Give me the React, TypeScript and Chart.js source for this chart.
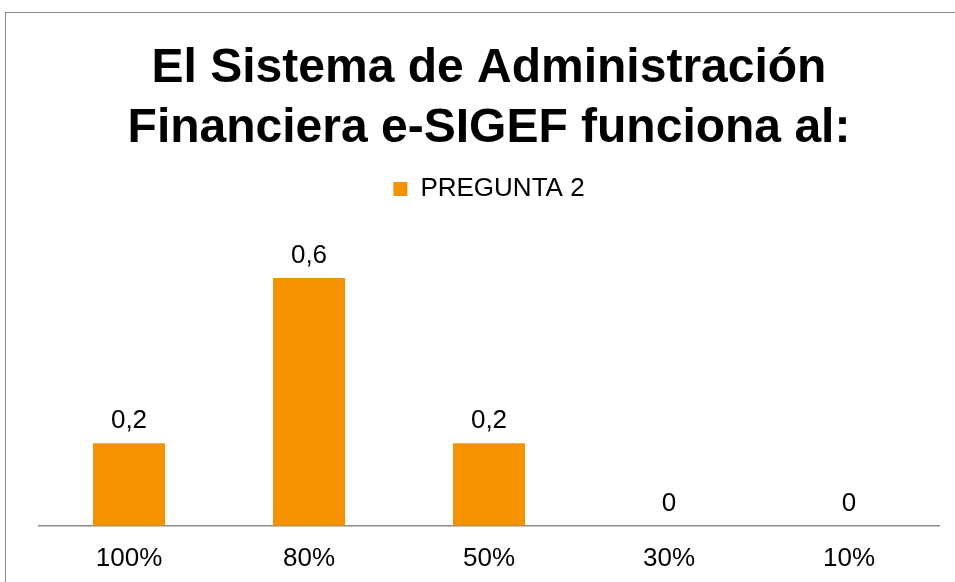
import React, { useEffect, useRef } from "react";
import { Chart, registerables } from "chart.js";

Chart.register(...registerables);

const categories = ["100%", "80%", "50%", "30%", "10%"];
const seriesName = "PREGUNTA 2";
const values = [0.2, 0.6, 0.2, 0, 0];
const titleLines = ["El Sistema de Administración", "Financiera e-SIGEF funciona al:"];

const FONT = "'Liberation Sans', Arial, sans-serif";

const dataLabels = {
  id: "dataLabels",
  afterDatasetsDraw(chart: any) {
    const ctx = chart.ctx;
    ctx.save();
    ctx.font = `26px ${FONT}`;
    ctx.fillStyle = "#000";
    ctx.textAlign = "center";
    ctx.textBaseline = "alphabetic";
    chart.data.datasets.forEach((ds: any, i: number) => {
      const meta = chart.getDatasetMeta(i);
      meta.data.forEach((el: any, j: number) => {
        const v = ds.data[j];
        const txt = String(v).replace(".", ",");
        ctx.fillText(txt, el.x, el.y - 15);
      });
    });
    ctx.restore();
  },
};

export default function App() {
  const ref = useRef<HTMLCanvasElement>(null);
  useEffect(() => {
    if (!ref.current) return;
    const chart = new Chart(ref.current, {
      type: "bar",
      data: {
        labels: categories,
        datasets: [
          {
            label: seriesName,
            data: values,
            backgroundColor: "#F59200",
            categoryPercentage: 1,
            barPercentage: 0.4,
          },
        ],
      },
      options: {
        animation: false,
        responsive: false,
        layout: { padding: { left: 33, right: 37, top: 20, bottom: 30 } },
        plugins: {
          title: {
            display: true,
            text: titleLines,
            color: "#000",
            font: { family: FONT, size: 48, weight: "bold", lineHeight: 1.25 },
            padding: { top: 6, bottom: 7 },
          },
          legend: {
            display: true,
            position: "top",
            labels: {
              color: "#000",
              font: { family: FONT, size: 26 },
              boxWidth: 14,
              boxHeight: 14,
              padding: 10,
            },
          },
          tooltip: { enabled: false },
        },
        scales: {
          x: {
            grid: { display: false },
            border: { display: true, color: "#8a8a8a", width: 1.5 },
            ticks: { color: "#000", font: { family: FONT, size: 26 }, padding: 9 },
          },
          y: {
            display: false,
            min: 0,
            max: 0.76,
          },
        },
      },
      plugins: [dataLabels],
    });
    return () => chart.destroy();
  }, []);
  return (
    <div style={{ position: "fixed", inset: 0, overflow: "hidden", background: "#fff" }}>
      <canvas
        ref={ref}
        width={970}
        height={600}
        style={{ position: "absolute", left: 5, top: 12, border: "1px solid #8a8a8a", boxSizing: "content-box" }}
      />
    </div>
  );
}
